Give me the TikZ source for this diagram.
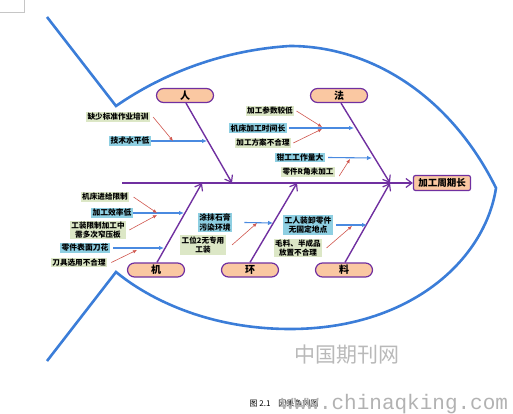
\documentclass[tikz,border=0pt]{standalone}
\usepackage{fontspec}
\setmainfont{Noto Sans CJK SC}
\newfontfamily\wmmono{Liberation Mono}
\usetikzlibrary{arrows.meta}
\definecolor{fishblue}{HTML}{3B7DD8}
\definecolor{bonepurple}{HTML}{7030A0}
\definecolor{peach}{HTML}{FAC8A2}
\definecolor{greenbg}{HTML}{DCE7C6}
\definecolor{bluebg}{HTML}{8ECFE2}
\definecolor{redarrow}{HTML}{D0574F}
\definecolor{bluearrow}{HTML}{4A8AE0}
\begin{document}
\begin{tikzpicture}[x=1pt,y=-1pt,
  fish/.style={draw=fishblue,line width=2.6pt,line join=miter},
  catbox/.style={draw=bonepurple,line width=1.2pt,fill=peach,rounded corners=7pt,
    minimum width=57pt,minimum height=14pt,inner sep=0pt,font=\fontsize{10}{10}\selectfont\bfseries},
  effbox/.style={draw=bonepurple,line width=1.2pt,fill=peach,rounded corners=2pt,
    minimum width=57pt,minimum height=15pt,inner sep=0pt,font=\fontsize{9.5}{10}\selectfont\bfseries},
  bone/.style={draw=bonepurple,line width=1.4pt,-{Straight Barb[length=6pt,width=9pt,line width=1.2pt]}},
  gcause/.style={fill=greenbg,inner xsep=1.5pt,inner ysep=1pt,align=center,
    font=\fontsize{7.6}{9.6}\selectfont\bfseries},
  bcause/.style={fill=bluebg,inner xsep=1.5pt,inner ysep=1pt,align=center,
    font=\fontsize{7.8}{9.8}\selectfont\bfseries},
  barrow/.style={draw=bluearrow,line width=1.1pt,-{Latex[length=5pt,width=4.5pt]}},
  rarrow/.style={draw=redarrow,line width=0.6pt,-{Latex[length=4pt,width=3.5pt]}},
]
\useasboundingbox (0,0) rectangle (513,414);
% page corner mark
\draw[gray!45,line width=0.5pt] (0,12) -- (24,12) -- (24,0);
% fish outline
\draw[fish] (47,17) -- (116,106)
  .. controls (165,72) and (225,50) .. (290,46)
  .. controls (370,46) and (450,95) .. (496,188)
  .. controls (485,260) and (410,329) .. (290,329)
  .. controls (210,329) and (150,300) .. (116,272)
  -- (47,361);
% category boxes
\node[catbox] (ren) at (185,95.5) {人};
\node[catbox] (fa) at (339,95.5) {法};
\node[catbox] (ji) at (156,270) {机};
\node[catbox] (huan) at (250,270) {环};
\node[catbox] (liao) at (344,270) {料};
\node[effbox] (eff) at (442,183) {加工周期长};
% spine
\coordinate (tailspine) at (122,183);
\coordinate (jren) at (232,183);
\coordinate (jji) at (202,183);
\coordinate (jhuan) at (297,183);
\coordinate (jend) at (390,183);
\draw[bone] (tailspine) -- (eff.west);
\draw[bone] ([xshift=1pt]ren.south) -- (jren);
\draw[bone] ([xshift=2pt]fa.south) -- (jend);
\draw[bone] ([xshift=1pt]ji.north) -- (jji);
\draw[bone] (huan.north) -- (jhuan);
\draw[bone] ([xshift=1pt]liao.north) -- (jend);
% ---- 人 causes
\node[gcause] (g1) at (118,117) {缺少标准作业培训};
\node[bcause] (b1) at (130,141) {技术水平低};
\coordinate (e1) at (207,141);
\coordinate (r1) at (173,141);
\draw[barrow] (b1.east) -- (e1);
\draw[rarrow] ([xshift=3pt]g1.east) -- (r1);
% ---- 法 causes
\node[gcause] (g2) at (270,111) {加工参数较低};
\node[bcause] (b2) at (258,128) {机床加工时间长};
\node[gcause] (g3) at (263,143) {加工方案不合理};
\coordinate (e2) at (354,128);
\coordinate (r2) at (322,127);
\coordinate (r3) at (322,129);
\draw[barrow] ([xshift=2pt]b2.east) -- (e2);
\draw[rarrow] ([xshift=2pt]g2.east) -- (r2);
\draw[rarrow] ([xshift=2pt]g3.east) -- (r3);
\node[bcause] (b3) at (300,157.5) {钳工工作量大};
\node[gcause] (g4) at (308,172) {零件R角未加工};
\coordinate (e3) at (372,158);
\coordinate (r4) at (350,159);
\draw[barrow] ([xshift=3pt]b3.east) -- (e3);
\draw[rarrow] ([xshift=4pt,yshift=-4pt]g4.east) -- (r4);
% ---- 机 causes
\node[gcause] (g5) at (105,197) {机床进给限制};
\node[bcause] (b4) at (112,213) {加工效率低};
\node[gcause] (g6) at (98,230) {工装限制加工中\\需多次窄压板};
\coordinate (e4) at (184,213);
\coordinate (r5) at (157,213);
\coordinate (r6) at (157,215);
\draw[barrow] (b4.east) -- (e4);
\draw[rarrow] ([xshift=4pt]g5.east) -- (r5);
\draw[rarrow] ([xshift=3pt]g6.east) -- (r6);
\node[bcause] (b5) at (85,248) {零件表面刀花};
\node[gcause] (g7) at (79,262.5) {刀具选用不合理};
\coordinate (e5) at (164,248);
\coordinate (r7) at (137,250);
\draw[barrow] ([xshift=3pt]b5.east) -- (e5);
\draw[rarrow] ([xshift=4pt]g7.east) -- (r7);
% ---- 环 causes
\node[bcause] (b6) at (215,222.5) {涂抹石膏\\污染环境};
\node[gcause] (g8) at (203,245) {工位2无专用\\工装};
\coordinate (e6) at (273,223);
\coordinate (r8) at (257,223);
\draw[barrow] ([xshift=12pt]b6.east) -- (e6);
\draw[rarrow] ([xshift=6pt]g8.east) -- (r8);
% ---- 料 causes
\node[bcause] (b7) at (308,225) {工人装卸零件\\无固定地点};
\node[gcause] (g9) at (298,248) {毛料、半成品\\放置不合理};
\coordinate (e7) at (367,225);
\coordinate (r9) at (352,226);
\draw[barrow] ([xshift=3pt]b7.east) -- (e7);
\draw[rarrow] ([xshift=4pt]g9.east) -- (r9);
% ---- watermark and caption
\node[text=gray!55,font=\fontsize{21}{21}\selectfont] (wm) at (347,355) {中国期刊网};
\node[anchor=base,font=\fontsize{8}{8}\selectfont] (cap) at (284,406) {图 2.1\quad 因果鱼刺图};
\node[anchor=base west,text=gray!60,font=\wmmono\fontsize{21}{21}\selectfont,inner sep=0pt] (url) at (281,409) {www.chinaqking.com};
\end{tikzpicture}
\end{document}
